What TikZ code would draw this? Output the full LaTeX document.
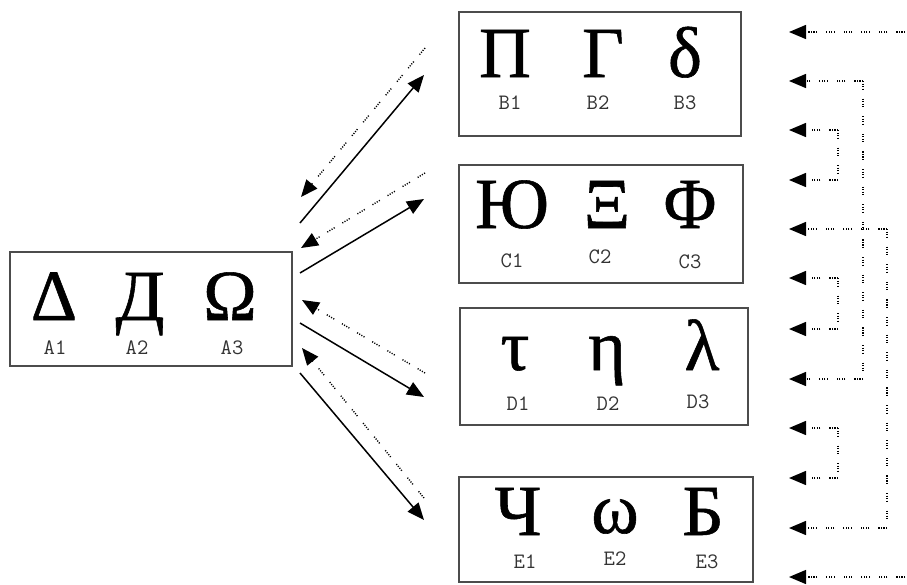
\documentclass[tikz,border=0pt]{standalone}
\usepackage{fontspec}
\setmainfont{Liberation Serif}
\newfontfamily\glyphfont[FakeBold=0.8]{Liberation Serif}
\usetikzlibrary{arrows.meta}
\tikzset{
  box/.style={draw=black!70, line width=1.3pt, inner sep=0pt},
  glyph/.style={inner sep=0pt, anchor=base, font=\glyphfont\fontsize{72}{72}\selectfont},
  lbl/.style={inner sep=0pt, anchor=base, text=black!80, font=\fontsize{22}{22}\selectfont\ttfamily},
  dotpat/.style={dash pattern=on 1.1pt off 1.4pt on 1.1pt off 1.4pt on 1.1pt off 1.4pt on 1.1pt off 9pt},
  tip/.style={-{Triangle[length=17pt,width=14pt]}},
  solidarrow/.style={line width=1.5pt, tip},
  dotarrow/.style={line width=1.4pt, dotpat, tip},
  dotline/.style={line width=1.4pt, dotpat},
}
\begin{document}
\begin{tikzpicture}[x=1pt,y=-1pt]
\useasboundingbox[fill=white] (0,0) rectangle (907,584);
% boxes
\node[box, minimum width=282, minimum height=114] (A) at (151,309) {};
\node[box, minimum width=282, minimum height=124] (B) at (600,74) {};
\node[box, minimum width=284, minimum height=118] (C) at (601,224) {};
\node[box, minimum width=288, minimum height=117] (D) at (604,366.5) {};
\node[box, minimum width=294, minimum height=105] (E) at (606,529.5) {};
% glyphs A
\node[glyph] (gA1) at (54,320) {Δ};
\node[glyph] (gA2) at (140,320) {Д};
\node[glyph] (gA3) at (230,320) {Ω};
\node[lbl] (lA1) at (55,354) {A1};
\node[lbl] (lA2) at (137,354) {A2};
\node[lbl] (lA3) at (232,354) {A3};
% glyphs B
\node[glyph] (gB1) at (505,77) {Π};
\node[glyph] (gB2) at (603,77) {Γ};
\node[glyph] (gB3) at (685,77) {δ};
\node[lbl] (lB1) at (510,109) {B1};
\node[lbl] (lB2) at (598,109) {B2};
\node[lbl] (lB3) at (685,109) {B3};
% glyphs C
\node[glyph] (gC1) at (512,228) {Ю};
\node[glyph] (gC2) at (607,228) {Ξ};
\node[glyph] (gC3) at (690,228) {Φ};
\node[lbl] (lC1) at (512,267) {C1};
\node[lbl] (lC2) at (600,263) {C2};
\node[lbl] (lC3) at (690,268) {C3};
% glyphs D
\node[glyph] (gD1) at (515,370) {τ};
\node[glyph] (gD2) at (607,370) {η};
\node[glyph] (gD3) at (702,370) {λ};
\node[lbl] (lD1) at (518,410) {D1};
\node[lbl] (lD2) at (608,410) {D2};
\node[lbl] (lD3) at (698,408) {D3};
% glyphs E
\node[glyph] (gE1) at (518,535) {Ч};
\node[glyph] (gE2) at (615,533) {ω};
\node[glyph] (gE3) at (703,535) {Б};
\node[lbl] (lE1) at (525,568) {E1};
\node[lbl] (lE2) at (615,565) {E2};
\node[lbl] (lE3) at (707,568) {E3};
% left arrows
\coordinate (sa1) at (300,223); \coordinate (ta1) at (424,75);
\coordinate (sa2) at (300,273); \coordinate (ta2) at (424,199);
\coordinate (sa3) at (300,323); \coordinate (ta3) at (424,397);
\coordinate (sa4) at (300,373); \coordinate (ta4) at (424,520);
\coordinate (sd1) at (425,48);  \coordinate (td1) at (301,197);
\coordinate (sd2) at (425,173); \coordinate (td2) at (301,248);
\coordinate (sd3) at (425,373); \coordinate (td3) at (302,300);
\coordinate (sd4) at (424,498); \coordinate (td4) at (302,348);
\foreach \i in {1,...,4} {
  \draw[solidarrow] (sa\i) -- (ta\i);
  \draw[dotarrow] (sd\i) -- (td\i);
}
% right side tree
\foreach \i/\x/\y in {1/905/32, 2/863/81, 3/838/130, 4/838/180, 5/887/229, 6/838/278,
                      7/838/329, 8/863/379, 9/838/428, 10/838/478, 11/887/528, 12/905/577} {
  \coordinate (r\i) at (\x,\y);
  \coordinate (t\i) at (789,\y);
  \draw[dotarrow] (r\i) -- (t\i);
}
\draw[dotline] (r3) -- (r4);
\draw[dotline] (r6) -- (r7);
\draw[dotline] (r9) -- (r10);
\draw[dotline] (r2) -- (r8);
\draw[dotline] (r5) -- (r11);
\end{tikzpicture}
\end{document}
